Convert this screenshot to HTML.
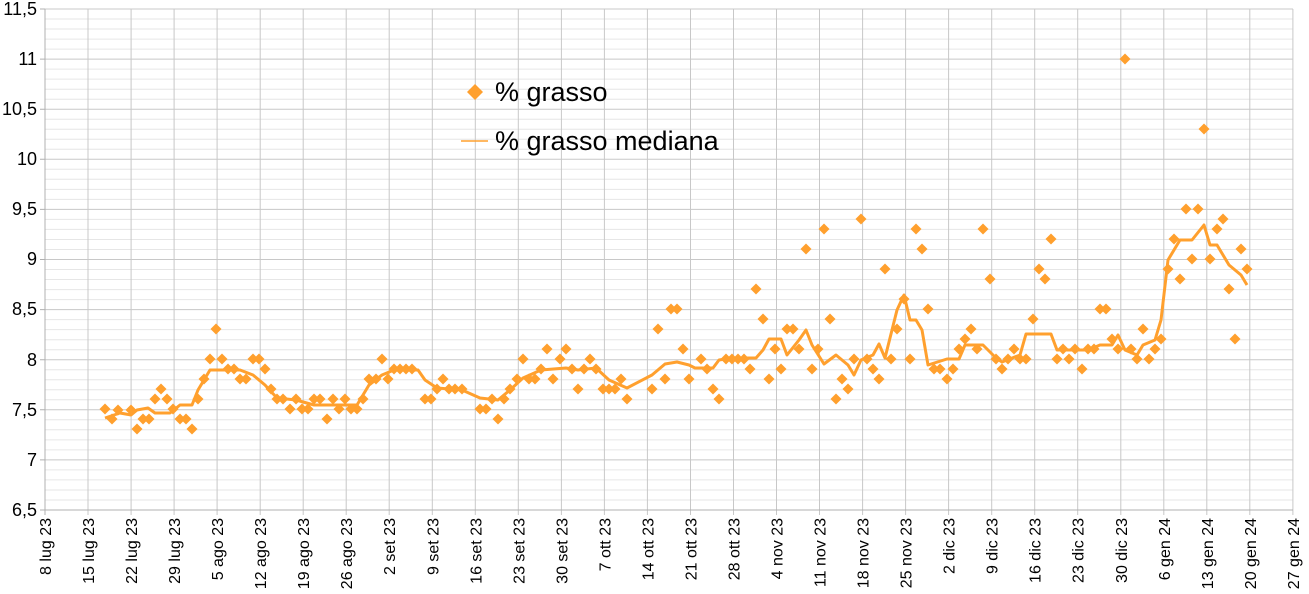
<!DOCTYPE html>
<html><head><meta charset="utf-8"><style>
html,body{margin:0;padding:0;background:#fff}
svg{display:block;font-family:"Liberation Sans",sans-serif}
</style></head><body>
<svg width="1309" height="594" viewBox="0 0 1309 594" xmlns="http://www.w3.org/2000/svg">
<rect width="1309" height="594" fill="#fff"/>
<path stroke="#e6e6e6" stroke-width="1" fill="none" d="M45 19H1293M45 29H1293M45 39.1H1293M45 49.1H1293M45 69.1H1293M45 79.1H1293M45 89.2H1293M45 99.2H1293M45 119.2H1293M45 129.2H1293M45 139.3H1293M45 149.3H1293M45 169.3H1293M45 179.3H1293M45 189.4H1293M45 199.4H1293M45 219.4H1293M45 229.4H1293M45 239.5H1293M45 249.5H1293M45 269.5H1293M45 279.5H1293M45 289.6H1293M45 299.6H1293M45 319.6H1293M45 329.6H1293M45 339.7H1293M45 349.7H1293M45 369.7H1293M45 379.7H1293M45 389.8H1293M45 399.8H1293M45 419.8H1293M45 429.8H1293M45 439.9H1293M45 449.9H1293M45 469.9H1293M45 479.9H1293M45 490H1293M45 500H1293"/>
<path stroke="#c8c8c8" stroke-width="1" fill="none" d="M45 9H1293M45 59.1H1293M45 109.2H1293M45 159.3H1293M45 209.4H1293M45 259.5H1293M45 309.6H1293M45 359.7H1293M45 409.8H1293M45 459.9H1293
M88 9V515M131.1 9V515M174.1 9V515M217.1 9V515M260.2 9V515M303.2 9V515M346.2 9V515M389.2 9V515M432.3 9V515M475.3 9V515M518.3 9V515M561.4 9V515M604.4 9V515M647.4 9V515M690.5 9V515M733.5 9V515M776.5 9V515M819.5 9V515M862.6 9V515M905.6 9V515M948.6 9V515M991.7 9V515M1034.7 9V515M1077.7 9V515M1120.8 9V515M1163.8 9V515M1206.8 9V515M1249.8 9V515M1292.9 9V515"/>
<path stroke="#b0b0b0" stroke-width="1" fill="none" d="M45 9V515M40 510H1293M40 9H45M40 59.1H45M40 109.2H45M40 159.3H45M40 209.4H45M40 259.5H45M40 309.6H45M40 359.7H45M40 409.8H45M40 459.9H45"/>
<g font-size="18" text-anchor="end" fill="#000">
<text x="37" y="15">11,5</text><text x="37" y="65">11</text><text x="37" y="115">10,5</text><text x="37" y="165">10</text><text x="37" y="215">9,5</text><text x="37" y="265">9</text><text x="37" y="315">8,5</text><text x="37" y="366">8</text><text x="37" y="416">7,5</text><text x="37" y="466">7</text><text x="37" y="516">6,5</text>
</g>
<g font-size="16" text-anchor="end" fill="#000">
<text transform="translate(51,518) rotate(-90)">8 lug 23</text>
<text transform="translate(94,518) rotate(-90)">15 lug 23</text>
<text transform="translate(137.1,518) rotate(-90)">22 lug 23</text>
<text transform="translate(180.1,518) rotate(-90)">29 lug 23</text>
<text transform="translate(223.1,518) rotate(-90)">5 ago 23</text>
<text transform="translate(266.2,518) rotate(-90)">12 ago 23</text>
<text transform="translate(309.2,518) rotate(-90)">19 ago 23</text>
<text transform="translate(352.2,518) rotate(-90)">26 ago 23</text>
<text transform="translate(395.2,518) rotate(-90)">2 set 23</text>
<text transform="translate(438.3,518) rotate(-90)">9 set 23</text>
<text transform="translate(481.3,518) rotate(-90)">16 set 23</text>
<text transform="translate(524.3,518) rotate(-90)">23 set 23</text>
<text transform="translate(567.4,518) rotate(-90)">30 set 23</text>
<text transform="translate(610.4,518) rotate(-90)">7 ott 23</text>
<text transform="translate(653.4,518) rotate(-90)">14 ott 23</text>
<text transform="translate(696.5,518) rotate(-90)">21 ott 23</text>
<text transform="translate(739.5,518) rotate(-90)">28 ott 23</text>
<text transform="translate(782.5,518) rotate(-90)">4 nov 23</text>
<text transform="translate(825.5,518) rotate(-90)">11 nov 23</text>
<text transform="translate(868.6,518) rotate(-90)">18 nov 23</text>
<text transform="translate(911.6,518) rotate(-90)">25 nov 23</text>
<text transform="translate(954.6,518) rotate(-90)">2 dic 23</text>
<text transform="translate(997.7,518) rotate(-90)">9 dic 23</text>
<text transform="translate(1040.7,518) rotate(-90)">16 dic 23</text>
<text transform="translate(1083.7,518) rotate(-90)">23 dic 23</text>
<text transform="translate(1126.8,518) rotate(-90)">30 dic 23</text>
<text transform="translate(1169.8,518) rotate(-90)">6 gen 24</text>
<text transform="translate(1212.8,518) rotate(-90)">13 gen 24</text>
<text transform="translate(1255.8,518) rotate(-90)">20 gen 24</text>
<text transform="translate(1298.9,518) rotate(-90)">27 gen 24</text>
</g>
<polyline fill="none" stroke="#ffa02e" stroke-width="3" stroke-linejoin="round" points="105,418 120,413 131,415 137,410 148,408 155,413 170,413 180,405 192,405 198,390 210,370 240,370 253,375 265,385 277,398 296,400 314,405 357,405 369,385 382,375 394,370 418,370 425,380 437,388 462,390 480,398 498,400 510,390 523,378 541,370 566,368 578,370 596,368 609,380 627,388 652,375 665,364 677,362 689,365 695,368 713,368 719,360 732,358 756,358 763,350 769,339 781,339 787,355 799,340 806,330 812,345 824,364 836,355 848,365 854,375 861,360 873,355 879,344 885,358 897,310 904,295 910,320 916,320 922,330 928,365 947,359 959,359 965,345 983,345 996,358 1002,362 1020,355 1026,334 1051,334 1057,350 1088,350 1100,345 1112,345 1118,335 1125,350 1137,355 1143,345 1155,340 1161,320 1168,260 1180,240 1192,240 1204,225 1210,245 1217,245 1229,265 1241,275 1247,285"/>
<defs><path id="d" d="M0 -5.5L5.5 0L0 5.5L-5.5 0Z" fill="#ffa02e"/></defs>
<g>
<use href="#d" x="105" y="409"/><use href="#d" x="112" y="419"/><use href="#d" x="118" y="410"/><use href="#d" x="131" y="410"/><use href="#d" x="137" y="429"/><use href="#d" x="143" y="419"/><use href="#d" x="149" y="419"/><use href="#d" x="155" y="399"/><use href="#d" x="161" y="389"/><use href="#d" x="167" y="399"/><use href="#d" x="173" y="409"/><use href="#d" x="180" y="419"/><use href="#d" x="186" y="419"/><use href="#d" x="192" y="429"/><use href="#d" x="198" y="399"/><use href="#d" x="204" y="379"/><use href="#d" x="210" y="359"/><use href="#d" x="216" y="329"/><use href="#d" x="222" y="359"/><use href="#d" x="228" y="369"/><use href="#d" x="234" y="369"/><use href="#d" x="240" y="379"/><use href="#d" x="246" y="379"/><use href="#d" x="253" y="359"/><use href="#d" x="259" y="359"/><use href="#d" x="265" y="369"/><use href="#d" x="271" y="389"/><use href="#d" x="277" y="399"/><use href="#d" x="283" y="399"/><use href="#d" x="290" y="409"/><use href="#d" x="296" y="399"/><use href="#d" x="302" y="409"/><use href="#d" x="308" y="409"/><use href="#d" x="314" y="399"/><use href="#d" x="320" y="399"/><use href="#d" x="327" y="419"/><use href="#d" x="333" y="399"/><use href="#d" x="339" y="409"/><use href="#d" x="345" y="399"/><use href="#d" x="351" y="409"/><use href="#d" x="357" y="409"/><use href="#d" x="363" y="399"/><use href="#d" x="369" y="379"/><use href="#d" x="376" y="379"/><use href="#d" x="382" y="359"/><use href="#d" x="388" y="379"/><use href="#d" x="394" y="369"/><use href="#d" x="400" y="369"/><use href="#d" x="406" y="369"/><use href="#d" x="412" y="369"/><use href="#d" x="425" y="399"/><use href="#d" x="431" y="399"/><use href="#d" x="437" y="389"/><use href="#d" x="443" y="379"/><use href="#d" x="449" y="389"/><use href="#d" x="455" y="389"/><use href="#d" x="462" y="389"/><use href="#d" x="480" y="409"/><use href="#d" x="486" y="409"/><use href="#d" x="492" y="399"/><use href="#d" x="498" y="419"/><use href="#d" x="504" y="399"/><use href="#d" x="510" y="389"/><use href="#d" x="517" y="379"/><use href="#d" x="523" y="359"/><use href="#d" x="529" y="379"/><use href="#d" x="535" y="379"/><use href="#d" x="541" y="369"/><use href="#d" x="547" y="349"/><use href="#d" x="553" y="379"/><use href="#d" x="560" y="359"/><use href="#d" x="566" y="349"/><use href="#d" x="572" y="369"/><use href="#d" x="578" y="389"/><use href="#d" x="584" y="369"/><use href="#d" x="590" y="359"/><use href="#d" x="596" y="369"/><use href="#d" x="603" y="389"/><use href="#d" x="609" y="389"/><use href="#d" x="615" y="389"/><use href="#d" x="621" y="379"/><use href="#d" x="627" y="399"/><use href="#d" x="652" y="389"/><use href="#d" x="658" y="329"/><use href="#d" x="665" y="379"/><use href="#d" x="671" y="309"/><use href="#d" x="677" y="309"/><use href="#d" x="683" y="349"/><use href="#d" x="689" y="379"/><use href="#d" x="701" y="359"/><use href="#d" x="707" y="369"/><use href="#d" x="713" y="389"/><use href="#d" x="719" y="399"/><use href="#d" x="726" y="359"/><use href="#d" x="732" y="359"/><use href="#d" x="738" y="359"/><use href="#d" x="744" y="359"/><use href="#d" x="750" y="369"/><use href="#d" x="756" y="289"/><use href="#d" x="763" y="319"/><use href="#d" x="769" y="379"/><use href="#d" x="775" y="349"/><use href="#d" x="781" y="369"/><use href="#d" x="787" y="329"/><use href="#d" x="793" y="329"/><use href="#d" x="799" y="349"/><use href="#d" x="806" y="249"/><use href="#d" x="812" y="369"/><use href="#d" x="818" y="349"/><use href="#d" x="824" y="229"/><use href="#d" x="830" y="319"/><use href="#d" x="836" y="399"/><use href="#d" x="842" y="379"/><use href="#d" x="848" y="389"/><use href="#d" x="854" y="359"/><use href="#d" x="861" y="219"/><use href="#d" x="867" y="359"/><use href="#d" x="873" y="369"/><use href="#d" x="879" y="379"/><use href="#d" x="885" y="269"/><use href="#d" x="891" y="359"/><use href="#d" x="897" y="329"/><use href="#d" x="904" y="299"/><use href="#d" x="910" y="359"/><use href="#d" x="916" y="229"/><use href="#d" x="922" y="249"/><use href="#d" x="928" y="309"/><use href="#d" x="934" y="369"/><use href="#d" x="940" y="369"/><use href="#d" x="947" y="379"/><use href="#d" x="953" y="369"/><use href="#d" x="959" y="349"/><use href="#d" x="965" y="339"/><use href="#d" x="971" y="329"/><use href="#d" x="977" y="349"/><use href="#d" x="983" y="229"/><use href="#d" x="990" y="279"/><use href="#d" x="996" y="359"/><use href="#d" x="1002" y="369"/><use href="#d" x="1008" y="359"/><use href="#d" x="1014" y="349"/><use href="#d" x="1020" y="359"/><use href="#d" x="1026" y="359"/><use href="#d" x="1033" y="319"/><use href="#d" x="1039" y="269"/><use href="#d" x="1045" y="279"/><use href="#d" x="1051" y="239"/><use href="#d" x="1057" y="359"/><use href="#d" x="1063" y="349"/><use href="#d" x="1069" y="359"/><use href="#d" x="1075" y="349"/><use href="#d" x="1082" y="369"/><use href="#d" x="1088" y="349"/><use href="#d" x="1094" y="349"/><use href="#d" x="1100" y="309"/><use href="#d" x="1106" y="309"/><use href="#d" x="1112" y="339"/><use href="#d" x="1118" y="349"/><use href="#d" x="1125" y="59"/><use href="#d" x="1131" y="349"/><use href="#d" x="1137" y="359"/><use href="#d" x="1143" y="329"/><use href="#d" x="1149" y="359"/><use href="#d" x="1155" y="349"/><use href="#d" x="1161" y="339"/><use href="#d" x="1168" y="269"/><use href="#d" x="1174" y="239"/><use href="#d" x="1180" y="279"/><use href="#d" x="1186" y="209"/><use href="#d" x="1192" y="259"/><use href="#d" x="1198" y="209"/><use href="#d" x="1204" y="129"/><use href="#d" x="1210" y="259"/><use href="#d" x="1217" y="229"/><use href="#d" x="1223" y="219"/><use href="#d" x="1229" y="289"/><use href="#d" x="1235" y="339"/><use href="#d" x="1241" y="249"/><use href="#d" x="1247" y="269"/>
</g>
<path d="M475 84L483 92L475 100L467 92Z" fill="#ffa02e"/>
<line x1="461" y1="141" x2="488" y2="141" stroke="#ffa02e" stroke-width="1.5"/>
<g font-size="27" fill="#000">
<text x="495" y="101">% grasso</text>
<text x="495" y="150">% grasso mediana</text>
</g>
</svg>
</body></html>
